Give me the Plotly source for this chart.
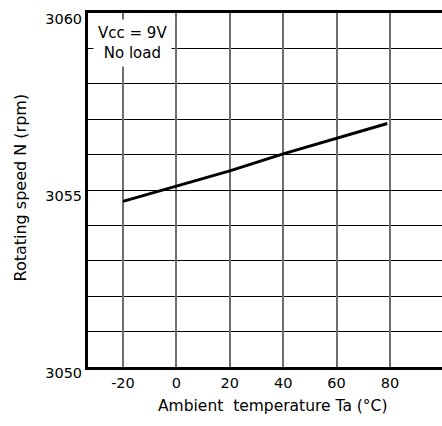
import plotly.graph_objects as go

temperature = [-20, 0, 20, 40, 60, 79]
speed = [3054.68, 3055.12, 3055.54, 3056.02, 3056.46, 3056.88]
x_ticks = [-20, 0, 20, 40, 60, 80]
x_labels = ["-20", "0", "20", "40", "60", "80"]
y_ticks = [3050, 3055, 3060]

FONT = "DejaVu Sans, sans-serif"
fs = 14.5

fig = go.Figure()
fig.add_trace(go.Scatter(x=temperature, y=speed, mode="lines",
                         line=dict(color="black", width=3), showlegend=False,
                         hoverinfo="skip"))

fig.update_layout(
    width=442, height=426,
    margin=dict(l=88, r=0, t=13, b=59),
    plot_bgcolor="white", paper_bgcolor="white",
    font=dict(family=FONT, size=fs, color="black"),
    xaxis=dict(range=[-33.1, 99.5], tickvals=x_ticks, ticktext=x_labels, ticks="",
               showgrid=True, gridcolor="#6e6e6e", gridwidth=1.6,
               showline=True, linecolor="black", linewidth=3, mirror=True,
               zeroline=False, ticklabelstandoff=1),
    yaxis=dict(range=[3049.999, 3060.001], tickvals=y_ticks, ticks="",
               showgrid=True, gridcolor="black", gridwidth=1,
               minor=dict(dtick=1, tick0=3050, showgrid=True, gridcolor="black", gridwidth=1),
               showline=True, linecolor="black", linewidth=3,
               zeroline=False, ticklabelshift=6, ticklabelstandoff=0,
               ticklabeloverflow="allow"),
    annotations=[
        dict(x=-16.3, y=3059.14, xref="x", yref="y", text="Vcc = 9V<br>No load",
             showarrow=False, bgcolor="white", borderpad=4,
             font=dict(family=FONT, size=15, color="black")),
    ],
)
fig.add_annotation(x=(272.5 - 88) / 354, y=(426 - 59 - 406) / 354, xref="paper", yref="paper",
                   text="Ambient  temperature Ta (°C)",
                   showarrow=False, yanchor="middle", xanchor="center",
                   font=dict(family=FONT, size=15.5, color="black"))
fig.add_annotation(x=(20 - 88) / 354, y=(426 - 59 - 187.5) / 354, xref="paper", yref="paper",
                   text="Rotating speed N (rpm)", textangle=-90, showarrow=False,
                   xanchor="center", yanchor="middle",
                   font=dict(family=FONT, size=16, color="black"))

fig.write_html("out.html")
